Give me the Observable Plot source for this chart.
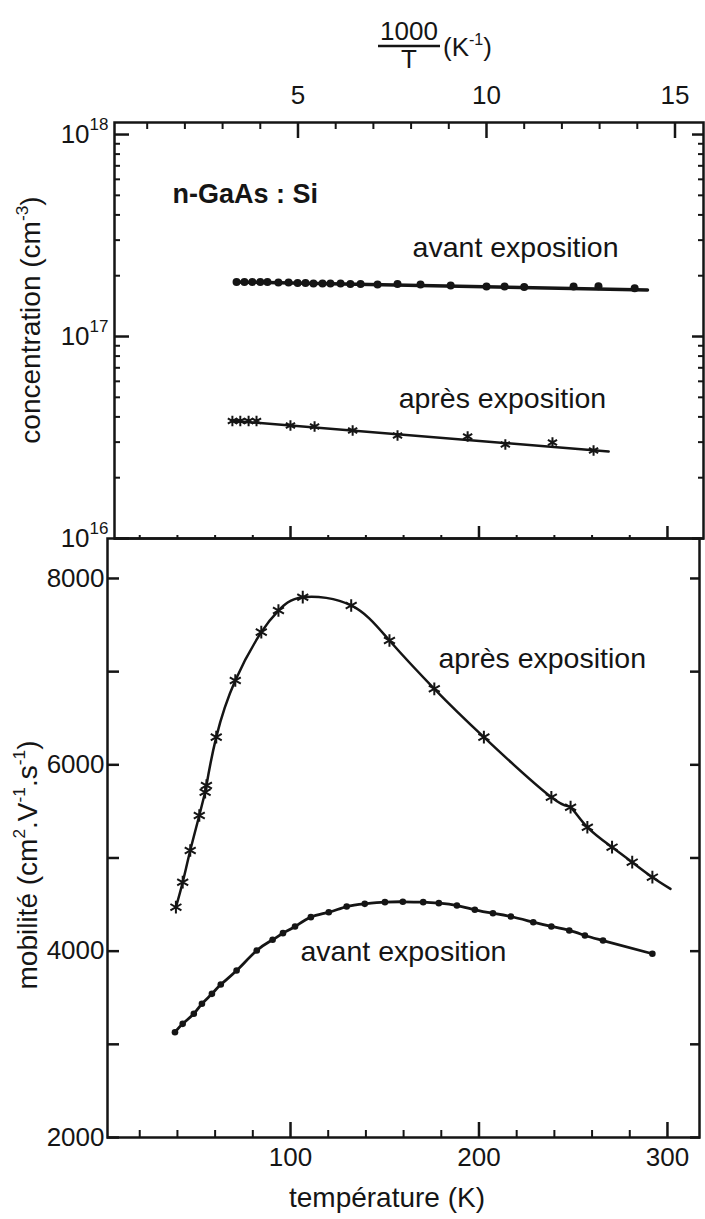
<!DOCTYPE html>
<html><head><meta charset="utf-8">
<script src="https://cdn.jsdelivr.net/npm/d3@7"></script>
<script src="https://cdn.jsdelivr.net/npm/@observablehq/plot@0.6"></script>
<style>
body{margin:0;background:#fff;}
#chart{position:relative;width:705px;height:1219px;background:#fff;overflow:hidden;font-family:"Liberation Sans",Arial,sans-serif;}
#chart svg{position:absolute;left:0;}
</style></head><body><div id="chart"></div>
<script>
// ---------- DATA ----------
// top panel: concentration vs 1000/T
const invTAvant = [3.37,3.58,3.79,4.0,4.19,4.48,4.75,4.99,5.2,5.41,5.65,5.86,6.13,6.39,6.66,7.11,7.64,8.25,9.05,10.0,10.48,11.0,12.31,12.97,13.93];
const concAvant = [1.861e17,1.861e17,1.861e17,1.861e17,1.861e17,1.85e17,1.85e17,1.84e17,1.84e17,1.829e17,1.829e17,1.829e17,1.829e17,1.82e17,1.82e17,1.808e17,1.82e17,1.81e17,1.79e17,1.768e17,1.768e17,1.758e17,1.768e17,1.775e17,1.735e17];
const fitAvantU = [3.37, 14.27];
const fitAvantC = [1.861e17, 1.70e17];
const invTApres = [3.26,3.47,3.69,3.9,4.8,5.44,6.45,7.64,9.5,10.5,11.75,12.84];
const concApres = [3.816e16,3.816e16,3.816e16,3.816e16,3.626e16,3.585e16,3.425e16,3.235e16,3.199e16,2.919e16,2.987e16,2.726e16];
const fitApresU = [3.23, 13.24];
const fitApresC = [3.83e16, 2.695e16];
// bottom panel: mobility vs T
const tAvant = [38.7,42.8,48.7,53,58.3,63,71.4,82.1,90.5,96,102.4,110.8,120.3,129.8,139.4,150.1,159.6,170.4,178.7,188.3,197.8,207.4,216.9,228.8,238.4,247.9,256.2,265.8,292];
const muAvant = [3130,3220,3328,3435,3542,3642,3792,4007,4122,4193,4265,4365,4418,4479,4508,4526,4530,4526,4515,4490,4444,4407,4372,4311,4265,4222,4168,4114,3972];
const tApres = [39.2,42.8,46.8,51.6,54.7,55.4,60.6,70.7,84.5,93.6,106.5,132.2,152.5,176.3,202.6,238.4,248.6,257.5,270.6,281.3,292];
const muApres = [4472,4740,5080,5456,5706,5778,6297,6905,7424,7656,7799,7710,7334,6816,6297,5652,5545,5330,5116,4955,4794];
const apresCurveEnd = [301.6, 4669];
// ticks
const uMajor = [5,10,15];
const uMinor = [1,2,3,4,6,7,8,9,11,12,13,14];
const cMajor = [1e16,1e17,1e18];
const cMinor = [2,3,4,5,6,7,8,9].flatMap(k => [k*1e16, k*1e17]);
const tMajor = [100,200,300];
const tMinor = [20,40,60,80,120,140,160,180,220,240,260,280];
const muTicks = [2000,3000,4000,5000,6000,7000,8000];
const muLabels = [2000,4000,6000,8000];
// annotations [x, y, text]
const sampleNote = [[1.67, 5.05e17, "n-GaAs : Si"]];
const topNotes = [[8.04, 2.76e17, "avant exposition"], [7.67, 4.93e16, "après exposition"]];
const botNotes = [[178.5, 7141, "après exposition"], [105.3, 3996, "avant exposition"]];

const INK = "#151515";
const FONT = "Liberation Sans, Arial, sans-serif";
const zip = (xs, ys) => xs.map((x, i) => ({x, y: ys[i]}));

// ---------- TOP PANEL ----------
const topPlot = Plot.plot({
  width: 705, height: 540,
  marginTop: 122, marginBottom: 2, marginLeft: 114, marginRight: 2,
  style: {background: "transparent", overflow: "visible", fontFamily: FONT, color: INK},
  x: {domain: [0.133, 15.756]},
  y: {type: "log", domain: [1e16, 1.147e18]},
  marks: [
    Plot.frame({stroke: INK, strokeWidth: 2.5}),
    Plot.axisX(uMajor, {anchor: "top", tickSize: -15, tickFormat: () => "", strokeWidth: 2.5, label: null}),
    Plot.axisX(uMinor, {anchor: "top", tickSize: -6, tickFormat: () => "", strokeWidth: 2, label: null}),
    Plot.axisX(uMajor, {anchor: "top", tickSize: 0, tickPadding: 19, fontSize: 26, label: null}),
    Plot.axisY(cMajor, {anchor: "left", tickSize: -15, tickFormat: () => "", strokeWidth: 2.5, label: null}),
    Plot.axisY(cMinor, {anchor: "left", tickSize: -6, tickFormat: () => "", strokeWidth: 2, label: null}),
    Plot.axisY(cMajor, {anchor: "right", tickSize: -12, tickFormat: () => "", strokeWidth: 2.5, label: null}),
    Plot.axisY(cMinor, {anchor: "right", tickSize: -6, tickFormat: () => "", strokeWidth: 2, label: null}),
    Plot.axisY(cMajor, {anchor: "left", tickSize: 0, tickPadding: 6, fontSize: 26, letterSpacing: -2, label: null,
      tickFormat: d => "10|" + Math.round(Math.log10(d))}),
    Plot.line(zip(fitAvantU, fitAvantC), {x: "x", y: "y", stroke: INK, strokeWidth: 3.5}),
    Plot.dot(zip(invTAvant, concAvant), {x: "x", y: "y", r: 4, fill: INK}),
    Plot.line(zip(fitApresU, fitApresC), {x: "x", y: "y", stroke: INK, strokeWidth: 2.5}),
    Plot.dot(zip(invTApres, concApres), {x: "x", y: "y", symbol: "asterisk", r: 5, stroke: INK, strokeWidth: 2}),
    Plot.text(sampleNote, {x: d => d[0], y: d => d[1], text: d => d[2], fontWeight: "bold", textAnchor: "start", fontSize: 27, fill: INK}),
    Plot.text(topNotes, {x: d => d[0], y: d => d[1], text: d => d[2], textAnchor: "start", fontSize: 28.5, fill: INK})
  ]
});

// ---------- BOTTOM PANEL ----------
const botPlot = Plot.plot({
  width: 705, height: 711,
  marginTop: 30, marginBottom: 82, marginLeft: 107, marginRight: 6,
  style: {background: "transparent", overflow: "visible", fontFamily: FONT, color: INK},
  x: {domain: [2.9, 317.0]},
  y: {domain: [2000, 8429]},
  marks: [
    Plot.frame({stroke: INK, strokeWidth: 2.5}),
    // ticks on the shared middle line (pointing up)
    Plot.axisX(tMajor, {anchor: "top", tickSize: 13, tickFormat: () => "", strokeWidth: 2.5, label: null}),
    Plot.axisX(tMinor, {anchor: "top", tickSize: 4, tickFormat: () => "", strokeWidth: 2, label: null}),
    // bottom axis
    Plot.axisX(tMajor, {anchor: "bottom", tickSize: -15, tickFormat: () => "", strokeWidth: 2.5, label: null}),
    Plot.axisX(tMinor, {anchor: "bottom", tickSize: -7, tickFormat: () => "", strokeWidth: 2, label: null}),
    Plot.axisX(tMajor, {anchor: "bottom", tickSize: 0, tickPadding: 10, fontSize: 26, label: null, tickFormat: d => String(d)}),
    Plot.axisY(muTicks, {anchor: "left", tickSize: -12, tickFormat: () => "", strokeWidth: 2.5, label: null}),
    Plot.axisY(muTicks, {anchor: "right", tickSize: -10, tickFormat: () => "", strokeWidth: 2.5, label: null}),
    Plot.axisY(muLabels, {anchor: "left", tickSize: 0, tickPadding: 3, fontSize: 26, letterSpacing: -1.5, label: null, tickFormat: d => String(d)}),
    Plot.line(zip(tAvant, muAvant), {x: "x", y: "y", stroke: INK, strokeWidth: 2.8, curve: "natural"}),
    Plot.dot(zip(tAvant, muAvant), {x: "x", y: "y", r: 3.3, fill: INK}),
    Plot.line(zip([...tApres, apresCurveEnd[0]], [...muApres, apresCurveEnd[1]]), {x: "x", y: "y", stroke: INK, strokeWidth: 2.5, curve: "natural"}),
    Plot.dot(zip(tApres, muApres), {x: "x", y: "y", symbol: "asterisk", r: 6, stroke: INK, strokeWidth: 2}),
    Plot.text(botNotes, {x: d => d[0], y: d => d[1], text: d => d[2], textAnchor: "start", fontSize: 28.5, fill: INK})
  ]
});

const chart = document.getElementById("chart");
topPlot.style.top = "0px";
botPlot.style.top = "508px";
chart.appendChild(topPlot);
chart.appendChild(botPlot);

// superscripts in the "10|18" tick labels
d3.select(topPlot).selectAll("text").each(function () {
  const t = this.textContent;
  if (t.includes("|")) {
    const [b, s] = t.split("|");
    const sel = d3.select(this);
    sel.text(null);
    sel.append("tspan").text(b);
    sel.append("tspan").attr("font-size", "17px").attr("letter-spacing", "0").attr("dy", "-0.75em").text(s);
  }
});

function richText(svg, x, y, rot, size, parts, anchor = "middle") {
  const t = d3.select(svg).append("text")
    .attr("transform", `translate(${x},${y}) rotate(${rot})`)
    .attr("text-anchor", anchor).attr("font-family", FONT).attr("font-size", size).attr("fill", INK);
  let up = false;
  for (const p of parts) {
    const sp = t.append("tspan").text(p.t);
    if (p.sup && !up) { sp.attr("dy", "-0.7em").attr("font-size", size * 0.62); up = true; }
    else if (p.sup) { sp.attr("font-size", size * 0.62); }
    else if (!p.sup && up) { sp.attr("dy", (size * 0.62 * 0.7) + "px"); up = false; }
  }
  return t;
}

// y titles
richText(topPlot, 40, 320, -90, 28, [{t: "concentration (cm"}, {t: "-3", sup: true}, {t: ")"}]);
richText(botPlot, 37, 865 - 508, -90, 28, [{t: "mobilité (cm"}, {t: "2", sup: true}, {t: ".V"}, {t: "-1", sup: true}, {t: ".s"}, {t: "-1", sup: true}, {t: ")"}]);
// x titles
richText(botPlot, 387, 1207 - 508, 0, 28, [{t: "température (K)"}]);
// 1000/T title
const ts = d3.select(topPlot);
ts.append("text").attr("x", 409).attr("y", 40).attr("text-anchor", "middle").attr("font-family", FONT).attr("font-size", 26).attr("fill", INK).text("1000");
ts.append("line").attr("x1", 378).attr("x2", 440).attr("y1", 46).attr("y2", 46).attr("stroke", INK).attr("stroke-width", 2.5);
ts.append("text").attr("x", 409).attr("y", 68).attr("text-anchor", "middle").attr("font-family", FONT).attr("font-size", 26).attr("fill", INK).text("T");
richText(topPlot, 443, 56, 0, 26, [{t: "(K"}, {t: "-1", sup: true}, {t: ")"}], "start");
</script></body></html>
